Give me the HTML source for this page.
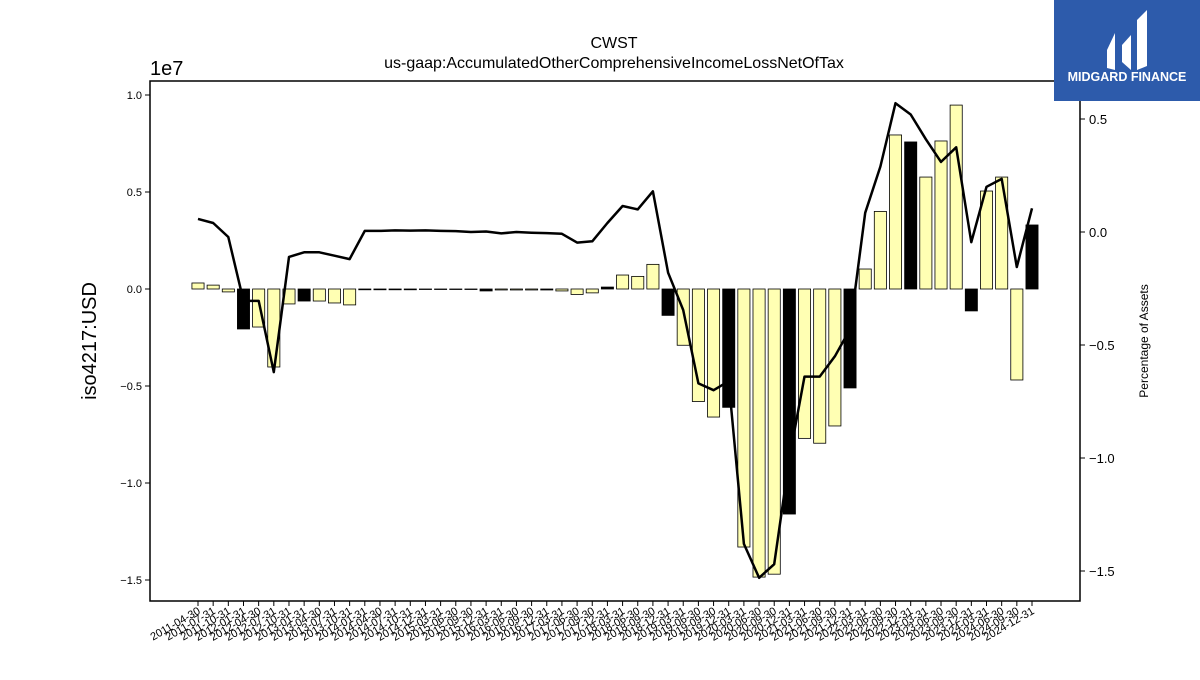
<!DOCTYPE html>
<html><head><meta charset="utf-8"><style>
body{margin:0;background:#fff;width:1200px;height:675px;overflow:hidden;font-family:"Liberation Sans",sans-serif}
</style></head><body>
<svg id="chart" width="1200" height="675" xmlns="http://www.w3.org/2000/svg" font-family="Liberation Sans, DejaVu Sans, sans-serif">
<rect width="1200" height="675" fill="#fff"/>
<text x="614" y="48" font-size="16" text-anchor="middle">CWST</text>
<text x="614" y="68" font-size="16" text-anchor="middle">us-gaap:AccumulatedOtherComprehensiveIncomeLossNetOfTax</text>
<text x="150" y="75" font-size="20">1e7</text>
<text transform="translate(96,341) rotate(-90)" font-size="20" text-anchor="middle">iso4217:USD</text>
<text transform="translate(1148,341) rotate(-90)" font-size="12" text-anchor="middle">Percentage of Assets</text>
<g id="bars"></g><g id="line"></g><g id="axes"></g>
<rect x="150" y="81" width="930" height="520" fill="none" stroke="#000" stroke-width="1.5"/>
<g>
<rect x="1054" y="0" width="146" height="101" fill="#2d5bab"/>
<path d="M1107 50 L1115 33 L1115 70 L1107 68 Z M1122 45 L1131 35 L1131 70 L1122 62 Z M1137 20 L1147 10 L1147 66 L1137 70 Z" fill="#fff"/>
<text x="1127" y="81" font-size="12.5" font-weight="bold" fill="#fff" text-anchor="middle">MIDGARD FINANCE</text>
</g>
</svg>
<script>
const categories=["2011-04-30","2011-07-31","2011-10-31","2012-01-31","2012-04-30","2012-07-31","2012-10-31","2013-01-31","2013-04-30","2013-07-31","2013-10-31","2014-01-31","2014-04-30","2014-07-31","2014-10-31","2014-12-31","2015-03-31","2015-06-30","2015-09-30","2015-12-31","2016-03-31","2016-06-30","2016-09-30","2016-12-31","2017-03-31","2017-06-30","2017-09-30","2017-12-31","2018-03-31","2018-06-30","2018-09-30","2018-12-31","2019-03-31","2019-06-30","2019-09-30","2019-12-31","2020-03-31","2020-06-30","2020-09-30","2020-12-31","2021-03-31","2021-06-30","2021-09-30","2021-12-31","2022-03-31","2022-06-30","2022-09-30","2022-12-31","2023-03-31","2023-06-30","2023-09-30","2023-12-31","2024-03-31","2024-06-30","2024-09-30","2024-12-31"];
const values=[310000,200000,-150000,-2060000,-1960000,-4020000,-770000,-620000,-620000,-720000,-820000,-40000,-40000,-40000,-40000,-20000,-20000,-20000,-20000,-100000,-50000,-50000,-50000,-50000,-100000,-280000,-200000,100000,720000,650000,1270000,-1360000,-2900000,-5800000,-6600000,-6100000,-13300000,-14850000,-14700000,-11600000,-7700000,-7950000,-7060000,-5100000,1030000,4000000,7940000,7580000,5770000,7630000,9480000,-1130000,5050000,5770000,-4690000,3300000];
const pctAssets=[0.058,0.04,-0.022,-0.305,-0.305,-0.62,-0.11,-0.09,-0.09,-0.105,-0.12,0.005,0.005,0.007,0.006,0.007,0.005,0.004,0.0,0.002,-0.006,0.0,-0.003,-0.005,-0.008,-0.047,-0.041,0.04,0.115,0.10,0.18,-0.18,-0.345,-0.67,-0.70,-0.66,-1.38,-1.53,-1.47,-1.0,-0.64,-0.64,-0.55,-0.43,0.085,0.29,0.57,0.52,0.41,0.31,0.375,-0.045,0.20,0.235,-0.155,0.105];
const leftTicks=[1.0,0.5,0.0,-0.5,-1.0,-1.5];
const rightTicks=[0.5,0.0,-0.5,-1.0,-1.5];
const NS="http://www.w3.org/2000/svg";
const x0=198,step=(1032-198)/55;
function xPos(i){return x0+i*step;}
function yL(v){return 289-v/1e7*194;}
function yR(p){return 232-p*226;}
function mk(t,a,parent){const e=document.createElementNS(NS,t);for(const k in a)e.setAttribute(k,a[k]);parent.appendChild(e);return e;}
const gb=document.getElementById('bars'),gl=document.getElementById('line'),ga=document.getElementById('axes');
const bw=step*0.8;
values.forEach((v,i)=>{
  const y1=yL(Math.max(v,0)),y2=yL(Math.min(v,0));
  const r=mk('rect',{x:xPos(i)-bw/2,y:y1,width:bw,height:Math.max(y2-y1,0.5),fill:(i%4===3)?'#000':'#ffffb3',stroke:'#000','stroke-width':0.8},gb);
  
  
});
const pts=pctAssets.map((p,i)=>xPos(i).toFixed(1)+','+yR(p).toFixed(1)).join(' ');
const pl=mk('polyline',{points:pts,fill:'none',stroke:'#000','stroke-width':2.5,'stroke-linejoin':'round'},gl);


leftTicks.forEach(t=>{
  const y=yL(t*1e7);
  mk('line',{x1:145,x2:150,y1:y,y2:y,stroke:'#000'},ga);
  const tx=mk('text',{x:142,y:y+4,'font-size':11,'text-anchor':'end'},ga);
  tx.textContent=t.toFixed(1).replace('-','\u2212');
  
  
});
rightTicks.forEach(t=>{
  const y=yR(t);
  mk('line',{x1:1080,x2:1085,y1:y,y2:y,stroke:'#000'},ga);
  const tx=mk('text',{x:1089,y:y+5,'font-size':13},ga);
  tx.textContent=t.toFixed(1).replace('-','\u2212');
  
  
});
categories.forEach((c,i)=>{
  const x=xPos(i);
  mk('line',{x1:x,x2:x,y1:601,y2:606,stroke:'#000'},ga);
  const tx=mk('text',{transform:`translate(${x+3},${613}) rotate(-30)`,'font-size':11,'text-anchor':'end'},ga);
  tx.textContent=c;
  
  
});
</script>
</body></html>
